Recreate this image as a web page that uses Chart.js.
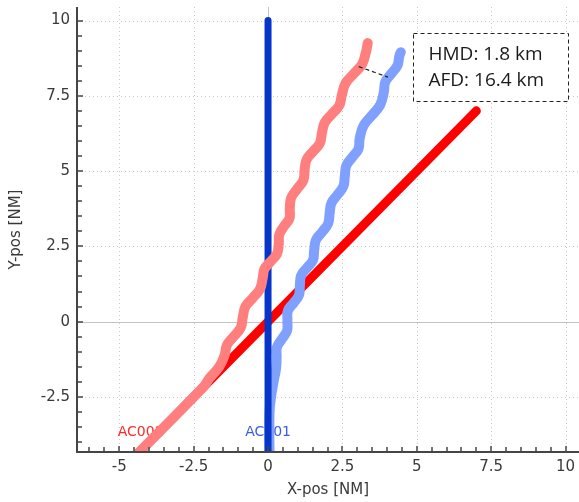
<!DOCTYPE html>
<html>
<head>
<meta charset="utf-8">
<script src="https://cdn.jsdelivr.net/npm/chart.js@4.4.0/dist/chart.umd.min.js"></script>
<style>
  html, body { margin: 0; padding: 0; background: #fff; }
</style>
</head>
<body>
<canvas id="chart" width="579" height="502"></canvas>
<script>
// axis ranges in NM
const xRange = [-6.42, 10.45];
const yRange = [-4.33, 10.45];
const xTickLabels = [-5, -2.5, 0, 2.5, 5, 7.5, 10];
const yTickLabels = [-2.5, 0, 2.5, 5, 7.5, 10];

// straight tracks [x, y]
const ac001Track = [[0, -4.6], [0, 10]];
const ac002Track = [[-4.6, -4.6], [7.0, 7.0]];

// wobbly observed tracks [x, y]
const ac002Observed = [
    [-4.6, -4.6], [-2.2, -2.2], [-1.96, -1.87], [-1.64, -1.50], [-1.46, -1.12], [-1.38, -0.77],
    [-1.15, -0.49], [-0.92, -0.21], [-0.85, 0.14], [-0.76, 0.50], [-0.51, 0.79], [-0.27, 1.08],
    [-0.18, 1.44], [-0.12, 1.75], [0.09, 2.00], [0.30, 2.25], [0.36, 2.57], [0.38, 2.90],
    [0.54, 3.17], [0.72, 3.43], [0.73, 3.76], [0.78, 4.12], [0.98, 4.41], [1.19, 4.70],
    [1.23, 5.06], [1.30, 5.39], [1.52, 5.66], [1.74, 5.92], [1.81, 6.26], [1.90, 6.60],
    [2.14, 6.89], [2.39, 7.17], [2.48, 7.52], [2.60, 7.91], [2.88, 8.23], [3.16, 8.55],
    [3.29, 8.95], [3.35, 9.25]
];
const ac001Observed = [
    [0.05, -4.61], [0.05, -3.01], [0.11, -2.45], [0.19, -1.98], [0.27, -1.55], [0.29, -1.19],
    [0.30, -0.85], [0.47, -0.57], [0.64, -0.30], [0.65, 0.04], [0.67, 0.37], [0.86, 0.62],
    [1.04, 0.88], [1.07, 1.21], [1.11, 1.53], [1.31, 1.79], [1.51, 2.04], [1.55, 2.37],
    [1.61, 2.71], [1.82, 2.98], [2.02, 3.26], [2.07, 3.60], [2.13, 3.94], [2.33, 4.21],
    [2.53, 4.49], [2.58, 4.83], [2.63, 5.18], [2.83, 5.46], [3.04, 5.74], [3.08, 6.09],
    [3.21, 6.51], [3.49, 6.85], [3.77, 7.20], [3.89, 7.62], [3.94, 7.96], [4.14, 8.23],
    [4.35, 8.51], [4.41, 8.81], [4.46, 8.95]
];

// miss distance marker between the two observed tracks
const hmdSegment = [[3.05, 8.47], [4.03, 8.12]];

const trackNames = ['AC001', 'AC002'];
const labelX = [0, -4.28];
const labelY = [-3.69, -3.69];
const labelColors = ['#3a5ee0', '#ff2a2a'];
const infoLines = ['HMD: 1.8 km', 'AFD: 16.4 km'];

const FONT = '"DejaVu Sans", sans-serif';
const TEXT = '#3a3a3a';

const toXY = pts => pts.map(p => ({ x: p[0], y: p[1] }));
const near = (a, b) => Math.abs(a - b) < 1e-6;
const isHalf = v => near(v * 2, Math.round(v * 2));
const tickText = list => v => {
    const hit = list.find(l => near(l, v));
    return hit === undefined ? '' : String(hit);
};
// keep the plot area flush with the fixed axis sizes
const noPadding = scale => {
    scale.paddingLeft = 0; scale.paddingRight = 0;
    scale.paddingTop = 0; scale.paddingBottom = 0;
};

const axisFrame = {
    id: 'axisFrame',
    beforeDatasetsDraw(chart) {
        const { ctx, chartArea: a, scales: { x, y } } = chart;
        ctx.save();
        // dotted grid
        ctx.lineWidth = 1;
        ctx.strokeStyle = '#c8c8c8';
        ctx.setLineDash([1, 3]);
        ctx.beginPath();
        xTickLabels.filter(v => v !== 0).forEach(v => {
            const p = Math.round(x.getPixelForValue(v)) + 0.5;
            ctx.moveTo(p, a.top); ctx.lineTo(p, a.bottom);
        });
        yTickLabels.filter(v => v !== 0).forEach(v => {
            const p = Math.round(y.getPixelForValue(v)) + 0.5;
            ctx.moveTo(a.left, p); ctx.lineTo(a.right, p);
        });
        ctx.stroke();
        // zero lines
        ctx.setLineDash([]);
        ctx.strokeStyle = '#c4c4c4';
        ctx.beginPath();
        const x0 = Math.round(x.getPixelForValue(0)) + 0.5;
        const y0 = Math.round(y.getPixelForValue(0)) + 0.5;
        ctx.moveTo(x0, a.top); ctx.lineTo(x0, a.bottom);
        ctx.moveTo(a.left, y0); ctx.lineTo(a.right, y0);
        ctx.stroke();
        // aircraft labels, under the tracks
        ctx.font = '14px ' + FONT;
        ctx.textAlign = 'center';
        ctx.textBaseline = 'middle';
        trackNames.forEach((name, i) => {
            ctx.fillStyle = labelColors[i];
            ctx.fillText(name, x.getPixelForValue(labelX[i]), y.getPixelForValue(labelY[i]));
        });
        ctx.restore();
    },
    afterDatasetsDraw(chart) {
        const { ctx, chartArea: a, scales: { x, y } } = chart;
        ctx.save();
        // axis lines
        ctx.strokeStyle = '#454545';
        ctx.lineWidth = 2;
        ctx.beginPath();
        ctx.moveTo(a.left, a.top);
        ctx.lineTo(a.left, a.bottom);
        ctx.lineTo(a.right, a.bottom);
        ctx.stroke();
        // inward tick marks
        ctx.lineWidth = 1.5;
        ctx.beginPath();
        x.ticks.forEach(t => {
            if (!isHalf(t.value)) return;
            const p = Math.round(x.getPixelForValue(t.value));
            const len = xTickLabels.some(l => near(l, t.value)) ? 6 : 5;
            ctx.moveTo(p, a.bottom); ctx.lineTo(p, a.bottom - len);
        });
        y.ticks.forEach(t => {
            if (!isHalf(t.value)) return;
            const p = Math.round(y.getPixelForValue(t.value));
            const len = yTickLabels.some(l => near(l, t.value)) ? 6 : 5;
            ctx.moveTo(a.left, p); ctx.lineTo(a.left + len, p);
        });
        ctx.stroke();
        // info box
        const bw = 155, bh = 68;
        const bx = Math.round(a.right - 11 - bw) + 0.5;
        const by = Math.round(a.top + 26) + 0.5;
        ctx.fillStyle = '#fff';
        ctx.fillRect(bx, by, bw, bh);
        ctx.setLineDash([4, 3]);
        ctx.lineWidth = 1;
        ctx.strokeStyle = '#222';
        ctx.strokeRect(bx, by, bw, bh);
        ctx.setLineDash([]);
        ctx.fillStyle = '#1a1a1a';
        ctx.font = '19px "Open Sans", sans-serif';
        ctx.textAlign = 'left';
        ctx.textBaseline = 'middle';
        infoLines.forEach((line, i) => {
            ctx.fillText(line, bx + 15, by + 21 + i * 26);
        });
        ctx.restore();
    }
};

const lineStyle = {
    showLine: true,
    pointRadius: 0,
    pointHoverRadius: 0,
    borderCapStyle: 'round',
    borderJoinStyle: 'round',
    clip: 0
};

new Chart(document.getElementById('chart'), {
    type: 'scatter',
    data: {
        datasets: [
            { ...lineStyle, label: 'HMD', data: toXY(hmdSegment), borderColor: '#222', borderWidth: 1.2, borderDash: [4, 3], borderCapStyle: 'butt', order: -1 },
            { ...lineStyle, label: 'AC002 observed', data: toXY(ac002Observed), borderColor: '#ff7f7f', borderWidth: 10, tension: 0.4, order: 0 },
            { ...lineStyle, label: 'AC001', data: toXY(ac001Track), borderColor: '#0635c9', borderWidth: 7, order: 1 },
            { ...lineStyle, label: 'AC001 observed', data: toXY(ac001Observed), borderColor: '#80a0ff', borderWidth: 10, tension: 0.4, order: 2 },
            { ...lineStyle, label: 'AC002', data: toXY(ac002Track), borderColor: '#ff0000', borderWidth: 9, order: 3 }
        ]
    },
    options: {
        responsive: false,
        devicePixelRatio: 1,
        animation: false,
        events: [],
        layout: { padding: { top: 7, right: 0, bottom: 0, left: 0 } },
        plugins: { legend: { display: false }, tooltip: { enabled: false } },
        scales: {
            x: {
                type: 'linear',
                min: xRange[0],
                max: xRange[1],
                grid: { display: false, drawTicks: false },
                border: { display: false },
                ticks: {
                    stepSize: 0.5,
                    includeBounds: false,
                    autoSkip: false,
                    maxRotation: 0,
                    padding: 6,
                    color: TEXT,
                    font: { family: FONT, size: 15 },
                    callback: tickText(xTickLabels)
                },
                title: {
                    display: true,
                    text: 'X-pos [NM]',
                    color: TEXT,
                    font: { family: FONT, size: 15 },
                    padding: { top: 0, bottom: 3 }
                },
                afterFit(scale) { scale.height = 50; noPadding(scale); }
            },
            y: {
                type: 'linear',
                min: yRange[0],
                max: yRange[1],
                grid: { display: false, drawTicks: false },
                border: { display: false },
                ticks: {
                    stepSize: 0.5,
                    includeBounds: false,
                    autoSkip: false,
                    padding: 7,
                    color: TEXT,
                    font: { family: FONT, size: 15 },
                    callback: tickText(yTickLabels)
                },
                title: {
                    display: true,
                    text: 'Y-pos [NM]',
                    color: TEXT,
                    font: { family: FONT, size: 15 },
                    padding: { top: 7, bottom: 0 }
                },
                afterFit(scale) { scale.width = 77; noPadding(scale); }
            }
        }
    },
    plugins: [axisFrame]
});
</script>
</body>
</html>
